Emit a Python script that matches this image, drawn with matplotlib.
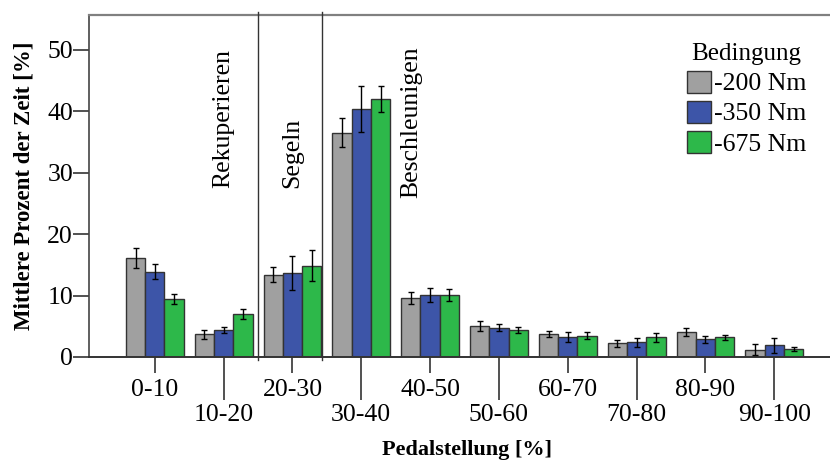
import numpy as np
from matplotlib import pyplot as plt

plt.rcParams['font.family'] = ['Liberation Serif', 'DejaVu Serif']

cats = ['0-10', '10-20', '20-30', '30-40', '40-50',
        '50-60', '60-70', '70-80', '80-90', '90-100']
conds = ['-200 Nm', '-350 Nm', '-675 Nm']

m200 = [16.1, 3.7, 13.4, 36.5, 9.6, 5.1, 3.7, 2.2, 4.0, 1.2]
m350 = [13.9, 4.4, 13.7, 40.4, 10.1, 4.8, 3.3, 2.4, 2.9, 1.9]
m675 = [9.4, 7.0, 14.9, 42.0, 10.1, 4.4, 3.5, 3.2, 3.2, 1.3]

e200 = [1.6, 0.75, 1.2, 2.35, 0.95, 0.8, 0.5, 0.5, 0.65, 0.95]
e350 = [1.2, 0.45, 2.8, 3.8, 1.2, 0.6, 0.8, 0.7, 0.55, 1.2]
e675 = [0.85, 0.8, 2.6, 2.1, 1.0, 0.5, 0.6, 0.75, 0.45, 0.3]

colors = ['#a0a0a0', '#3d55a8', '#2db84a']

fig = plt.figure(figsize=(8.3, 4.61), dpi=100)
ax = fig.add_axes([0.1072, 0.2256, 0.8928, 0.7419])

x = np.arange(len(cats))
w = 0.28
for i, (vals, errs) in enumerate([(m200, e200), (m350, e350), (m675, e675)]):
    ax.bar(x + (i - 1) * w, vals, w, color=colors[i], edgecolor='#333333',
           linewidth=1.0, label=conds[i], zorder=2)
    ax.errorbar(x + (i - 1) * w, vals, yerr=errs, fmt='none', ecolor='black',
                elinewidth=1.0, capsize=2.5, capthick=1.0, zorder=3)

ax.set_xlim(-0.957, 9.81)
ax.set_ylim(0, 55.7)
ax.set_yticks([0, 10, 20, 30, 40, 50])

# even categories on short ticks, odd ones on long ticks below
ax.set_xticks(x[::2])
ax.set_xticklabels(cats[::2])
ax.set_xticks(x[1::2], minor=True)
ax.set_xticklabels(cats[1::2], minor=True)
ax.tick_params(axis='x', which='major', length=11.5, width=1.2, pad=4,
               labelsize=18.5, color='#333333')
ax.tick_params(axis='x', which='minor', length=31, width=1.2, pad=3,
               labelsize=18.5, color='#333333')
ax.tick_params(axis='y', length=11.5, width=1.2, pad=0, labelsize=18.5,
               color='#333333')

ax.spines['right'].set_visible(False)
ax.spines['top'].set_color('#808080')
ax.spines['top'].set_linewidth(1.6)
ax.spines['left'].set_color('#444444')
ax.spines['left'].set_linewidth(1.2)
ax.spines['bottom'].set_color('#333333')
ax.spines['bottom'].set_linewidth(1.4)

# phase separators
for xs in [1.5, 2.435]:
    ax.plot([xs, xs], [-0.5, 56.2], color='#333333', lw=1.0, clip_on=False,
            zorder=4)

ax.text(1.0, 27.5, 'Rekuperieren', rotation=90, ha='center', va='bottom',
        fontsize=18.5)
ax.text(2.0, 27.5, 'Segeln', rotation=90, ha='center', va='bottom',
        fontsize=18.5)
ax.text(3.72, 25.9, 'Beschleunigen', rotation=90, ha='center', va='bottom',
        fontsize=18.5)

ax.set_ylabel('Mittlere Prozent der Zeit [%]', fontsize=16.5,
              fontweight='bold', labelpad=9)
ax.set_xlabel('Pedalstellung [%]', fontsize=16, fontweight='bold')
ax.xaxis.set_label_coords(0.51, -0.243)

leg = ax.legend(title='Bedingung', loc='upper left',
                bbox_to_anchor=(0.807, 0.917), frameon=False, fontsize=18.5,
                title_fontsize=18, handlelength=0.95, handleheight=0.95,
                handletextpad=0.1, labelspacing=0.2, borderpad=0,
                borderaxespad=0)

fig.savefig('out.png', dpi=100)
